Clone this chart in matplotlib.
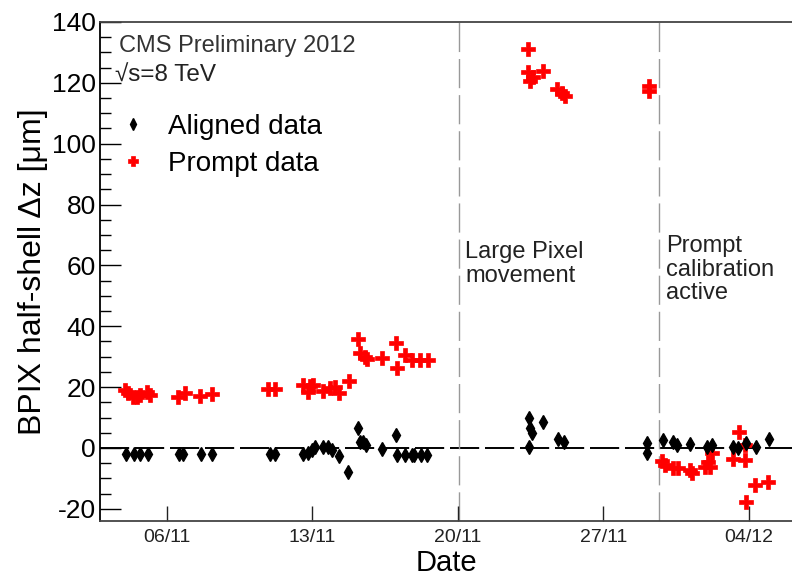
import matplotlib
matplotlib.use("Agg")
import matplotlib.pyplot as plt
from matplotlib.ticker import MultipleLocator

plt.rcParams['font.family'] = ['Liberation Sans', 'DejaVu Sans']
plt.rcParams['axes.unicode_minus'] = False

# x = day counted from 1 November 2012 (so 04/12 is day 34)
aligned_day = [4.04, 4.43, 4.72, 5.10, 6.58, 6.80, 7.63, 8.18, 10.97, 11.21,
               12.57, 12.81, 12.97, 13.13, 13.53, 13.77, 13.93, 14.30, 14.73,
               15.21, 15.29, 15.45, 15.58, 16.34, 17.02, 17.06, 17.46, 17.78,
               17.89, 18.21, 18.53,
               23.42, 23.47, 23.55, 23.42, 24.11, 24.83, 25.10,
               29.11, 29.11, 29.85, 30.36, 30.52, 31.16, 31.96, 32.20, 33.24,
               33.48, 33.88, 34.33, 34.97]
aligned_dz = [-2.0, -2.0, -2.0, -2.0, -2.0, -2.0, -2.0, -2.0, -2.0, -2.0,
              -2.0, -1.7, -0.7, 0.4, 0.4, 0.4, -0.7, -2.5, -8.0,
              6.5, 2.1, 2.0, 1.0, -0.4, 4.3, -2.3, -2.3, -2.3,
              -2.3, -2.3, -2.3,
              9.8, 6.5, 4.8, 0.4, 8.7, 2.9, 2.1,
              1.7, -1.5, 2.6, 2.1, 1.0, 1.3, 0.4, 1.0, 0.4,
              -0.1, 1.7, 0.4, 2.9]

prompt_day = [4.00, 4.15, 4.39, 4.56, 4.72, 5.04, 5.20, 6.56, 6.88, 7.60, 8.16,
              10.88, 11.21,
              12.57, 12.89, 12.81, 13.05, 13.53, 13.85, 14.09, 14.30, 14.78,
              15.21, 15.29, 15.53, 15.62, 16.34, 17.02, 17.06, 17.46, 17.78,
              18.18, 18.58,
              23.38, 23.38, 23.47, 23.63, 24.11, 24.75, 24.99, 25.15,
              29.19, 29.19,
              29.80, 29.96, 30.36, 30.60, 31.16, 31.24, 31.88, 32.04, 32.20,
              32.12, 33.24, 33.53, 33.80, 33.80, 33.88, 34.28, 34.92]
prompt_dz = [19.1, 18.0, 16.9, 16.7, 17.4, 18.5, 17.4, 16.6, 18.0, 17.1, 17.8,
             19.4, 19.4,
             20.7, 20.4, 18.5, 20.7, 18.7, 19.6, 20.2, 18.0, 22.0,
             35.8, 31.1, 30.0, 29.2, 29.5, 34.4, 26.2, 30.6, 28.9,
             28.9, 28.9,
             131.1, 123.4, 120.5, 121.9, 123.8, 118.0, 116.7, 115.6,
             117.3, 119.0,
             -4.3, -5.6, -6.7, -6.7, -7.2, -8.3, -6.3, -4.5, -1.7,
             -6.3, -3.7, 5.4, -4.0, 1.0, -17.7, -12.2, -11.1]

tick_days = [6, 13, 20, 27, 34]
tick_labels = ["06/11", "13/11", "20/11", "27/11", "04/12"]
event_days = [20.06, 29.68]

fig = plt.figure(figsize=(7.92, 5.78), dpi=100)
ax = fig.add_axes([0.1263, 0.0986, 0.8737, 0.8634])

# reference lines
ax.axhline(0, color="black", lw=1.4, ls=(0, (15, 3)), zorder=1)
for d in event_days:
    ax.axvline(d, color="#999999", lw=1.0, ls=(0, (21, 5)), zorder=1)

ax.plot(aligned_day, aligned_dz, ls="none", marker="d", ms=7.5, color="black",
        mec="black", label="Aligned data", zorder=3)
ax.plot(prompt_day, prompt_dz, ls="none", marker="P", ms=10, color="red",
        mec="red", mew=0.5, label="Prompt data", zorder=2)

ax.set_xlim(2.79, 36.07)
ax.set_ylim(-24, 140)
ax.set_xticks(tick_days)
ax.set_xticklabels(tick_labels)
ax.yaxis.set_major_locator(MultipleLocator(20))
ax.yaxis.set_minor_locator(MultipleLocator(5))
ax.tick_params(axis="x", direction="in", length=11, width=1, labelsize=14,
               pad=6, colors="#222222")
ax.tick_params(axis="y", which="major", direction="in", length=15, width=1,
               labelsize=19, pad=3)
ax.tick_params(axis="y", which="minor", direction="in", length=8, width=1)
ax.spines["right"].set_visible(False)
for s in ["top", "bottom"]:
    ax.spines[s].set_color("#444444")
    ax.spines[s].set_linewidth(1.3)
ax.spines["left"].set_linewidth(1.3)

ax.set_xlabel("Date", fontsize=21, labelpad=2)
ax.set_ylabel("BPIX half-shell \u0394z [\u03bcm]", fontsize=23, labelpad=3)

ax.text(0.028, 0.973, "CMS Preliminary 2012", transform=ax.transAxes,
        fontsize=17, color="#333333", va="top")
ax.text(0.021, 0.915, "\u221as=8 TeV", transform=ax.transAxes,
        fontsize=17.5, color="#222222", va="top")

ax.text(20.35, 68, "Large Pixel\nmovement", fontsize=17, color="#222222",
        va="top", linespacing=1.1)
ax.text(30.0, 70, "Prompt\ncalibration\nactive", fontsize=17, color="#222222",
        va="top", linespacing=1.1)

leg = ax.legend(loc="upper left", bbox_to_anchor=(0.0, 0.855), frameon=False,
                fontsize=20, handlelength=1.0, handletextpad=0.75,
                labelspacing=0.4, markerscale=0.75, borderaxespad=0.3)

fig.savefig("out.png", dpi=100)
